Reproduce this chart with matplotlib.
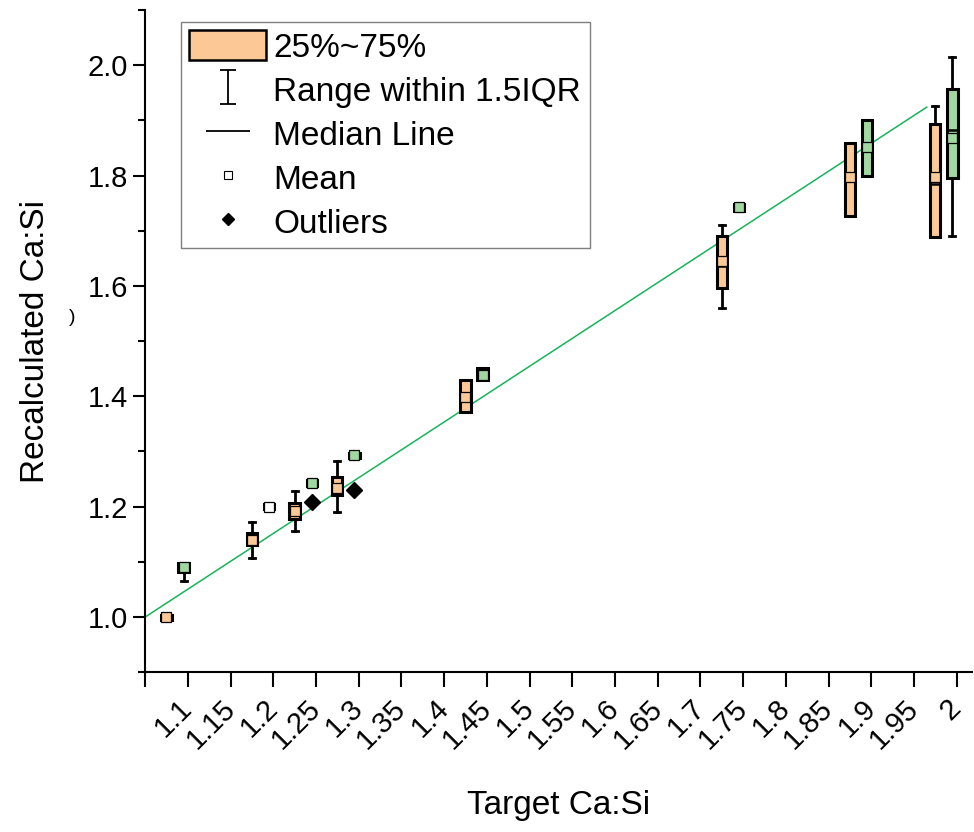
import numpy as np
import matplotlib
matplotlib.use('Agg')
import matplotlib.pyplot as plt
from matplotlib.patches import Patch
from matplotlib.lines import Line2D
from matplotlib.path import Path
from matplotlib.ticker import MultipleLocator

plt.rcParams['font.family'] = ['Liberation Sans', 'DejaVu Sans']

# --- data ---
# orange series (left box of each pair)
targets_a = [1.1, 1.2, 1.25, 1.3, 1.45, 1.75, 1.9, 2.0]
q1_a = [0.995, 1.131, 1.177, 1.221, 1.371, 1.596, 1.727, 1.688]
med_a = [1.000, 1.143, 1.190, 1.240, 1.405, 1.637, 1.791, 1.785]
q3_a = [1.004, 1.153, 1.206, 1.254, 1.430, 1.691, 1.859, 1.894]
lo_a = [0.995, 1.107, 1.156, 1.191, 1.371, 1.560, 1.727, 1.688]
hi_a = [1.004, 1.172, 1.228, 1.283, 1.430, 1.710, 1.859, 1.926]
mean_a = [1.000, 1.140, 1.192, 1.233, 1.398, 1.645, 1.797, 1.797]

# green series (right box of each pair)
targets_b = [1.1, 1.25, 1.3, 1.45, 1.75, 1.9, 2.0]
q1_b = [1.081, 1.238, 1.289, 1.429, 1.736, 1.799, 1.796]
med_b = [1.090, 1.243, 1.293, 1.440, 1.742, 1.847, 1.882]
q3_b = [1.098, 1.249, 1.298, 1.451, 1.749, 1.900, 1.956]
lo_b = [1.065, 1.238, 1.289, 1.429, 1.736, 1.799, 1.690]
hi_b = [1.098, 1.249, 1.298, 1.451, 1.749, 1.900, 2.014]
mean_b = [1.090, 1.243, 1.294, 1.438, 1.743, 1.852, 1.868]
fliers_b = [[], [1.209], [1.231], [], [], [], []]

# single white box at 1.2
targets_c = [1.2]
q1_c = [1.196]
med_c = [1.200]
q3_c = [1.204]
mean_c = [1.200]

# reference line
ref_x = [1.05, 1.965]
ref_y = [1.0, 1.924]

orange = '#FCC896'
green = '#A0D8A0'
line_green = '#17B45A'


def make_stats(q1, med, q3, lo, hi, mean, fliers=None):
    stats = []
    for i in range(len(q1)):
        stats.append(dict(q1=q1[i], med=med[i], q3=q3[i], whislo=lo[i],
                          whishi=hi[i], mean=mean[i],
                          fliers=fliers[i] if fliers else []))
    return stats


def draw_boxes(ax, stats, pos, color):
    ax.bxp(stats, positions=pos, widths=0.012, capwidths=0.007,
           patch_artist=True, showmeans=True, manage_ticks=False,
           boxprops=dict(facecolor=color, edgecolor='black', linewidth=2.2),
           medianprops=dict(color='black', linewidth=1.8),
           whiskerprops=dict(color='black', linewidth=2.0),
           capprops=dict(color='black', linewidth=2.0),
           meanprops=dict(marker='s', markerfacecolor=color,
                          markeredgecolor='black', markersize=6.5,
                          markeredgewidth=0.9),
           flierprops=dict(marker='D', markerfacecolor='black',
                           markeredgecolor='black', markersize=8.5))


fig = plt.figure(figsize=(9.74, 8.32), dpi=100)
ax = fig.add_axes([0.149, 0.192, 0.849, 0.796])

ax.plot(ref_x, ref_y, color=line_green, lw=1.1, zorder=1)

draw_boxes(ax, make_stats(q1_a, med_a, q3_a, lo_a, hi_a, mean_a),
           [t - 0.025 for t in targets_a], orange)
draw_boxes(ax, make_stats(q1_b, med_b, q3_b, lo_b, hi_b, mean_b, fliers_b),
           [t - 0.005 for t in targets_b], green)
draw_boxes(ax, make_stats(q1_c, med_c, q3_c, q1_c, q3_c, mean_c),
           [t - 0.005 for t in targets_c], 'white')

ax.set_xlim(1.05, 2.018)
ax.set_ylim(0.9, 2.1)

xticks = np.round(np.arange(1.05, 2.001, 0.05), 2)
ax.set_xticks(xticks)
ax.set_xticklabels([''] + [f'{v:g}' for v in xticks[1:]], rotation=45,
                   ha='right', va='center', rotation_mode='anchor',
                   fontsize=21)
ax.set_yticks(np.round(np.arange(1.0, 2.01, 0.2), 1))
ax.set_yticklabels([f'{v:.1f}' for v in np.arange(1.0, 2.01, 0.2)],
                   fontsize=21)
ax.yaxis.set_minor_locator(MultipleLocator(0.1))

for s in ['top', 'right']:
    ax.spines[s].set_visible(False)
for s in ['left', 'bottom']:
    ax.spines[s].set_linewidth(1.5)
ax.tick_params(axis='both', which='major', direction='out', length=9,
               width=1.5)
ax.tick_params(axis='both', which='minor', direction='out', length=5,
               width=1.5)
ax.tick_params(axis='x', length=11, pad=12)
for lab in ax.get_xticklabels():
    lab.set_x(lab.get_position()[0])

ax.set_xlabel('Target Ca:Si', fontsize=24, labelpad=26)
ax.set_ylabel('Recalculated Ca:Si', fontsize=24, labelpad=26)
fig.text(0.074, 0.618, ')', fontsize=14, ha='center', va='center')

# legend
ibeam = Path([(-0.5, 1), (0.5, 1), (0, 1), (0, -1), (-0.5, -1), (0.5, -1)],
             [Path.MOVETO, Path.LINETO, Path.MOVETO, Path.LINETO,
              Path.MOVETO, Path.LINETO])
hline = Path([(-1, 0), (1, 0)], [Path.MOVETO, Path.LINETO])
handles = [
    Patch(facecolor=orange, edgecolor='black', linewidth=1.8),
    Line2D([], [], marker=ibeam, linestyle='none', color='black',
           markersize=24, markeredgewidth=1.3),
    Line2D([], [], marker=hline, linestyle='none', color='black',
           markersize=32, markeredgewidth=1.3),
    Line2D([], [], marker='s', linestyle='none', markerfacecolor='white',
           markeredgecolor='black', markersize=5.5, markeredgewidth=0.8),
    Line2D([], [], marker='D', linestyle='none', color='black',
           markersize=6),
]
labels = ['25%~75%', 'Range within 1.5IQR', 'Median Line', 'Mean', 'Outliers']
leg = ax.legend(handles, labels, loc='upper left',
                bbox_to_anchor=(0.0435, 0.982), borderaxespad=0,
                fontsize=24, handlelength=2.3, handleheight=1.0,
                handletextpad=0.22, labelspacing=0.32, borderpad=0.25,
                fancybox=False, framealpha=1)
leg.get_frame().set_edgecolor('#7f7f7f')
leg.get_frame().set_linewidth(1.0)

fig.savefig('out.png', dpi=100)
